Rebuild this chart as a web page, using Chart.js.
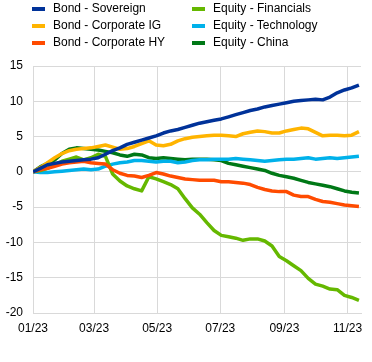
<!DOCTYPE html>
<html>
<head>
<meta charset="utf-8">
<script src="https://cdn.jsdelivr.net/npm/chart.js@4.4.0/dist/chart.umd.min.js"></script>
<style>
  html, body { margin: 0; padding: 0; background: #fff; }
  #wrap { position: relative; width: 372px; height: 362px; }
  #legend { position: absolute; left: 0; top: 0; width: 372px; height: 56px; font: 12px "Liberation Sans", Arial, sans-serif; color: #000; }
  .item { position: absolute; height: 17px; line-height: 17px; white-space: nowrap; }
  .sw { position: absolute; left: 0; top: 7px; width: 13px; height: 4px; }
  .lbl { position: absolute; left: 21px; top: 0; }
</style>
</head>
<body>
<div id="wrap">
  <canvas id="myChart" width="372" height="362"></canvas>
  <div id="legend"></div>
</div>
<script>
// days since 1 Jan 2023
const days = [0, 7, 14, 21, 28, 35, 42, 49, 56, 63, 70, 77, 84, 91, 98, 105, 112, 119, 126, 133,
  140, 147, 154, 161, 168, 175, 182, 189, 196, 203, 210, 217, 224, 231, 238, 245, 252, 259, 266, 273,
  280, 287, 294, 301, 308, 315];

const tickDays = [0, 59, 120, 181, 243, 304];
const tickLabels = ['01/23', '03/23', '05/23', '07/23', '09/23', '11/23'];

const bondSovereign = [0, 0.5, 1.0, 1.2, 1.4, 1.5, 1.6, 1.7, 1.8, 2.0, 2.5, 3.0, 3.4, 3.9, 4.2, 4.5, 4.8, 5.1, 5.5, 5.8,
  6.0, 6.3, 6.6, 6.9, 7.1, 7.3, 7.5, 7.8, 8.1, 8.4, 8.7, 8.9, 9.2, 9.4, 9.6, 9.8, 10.0, 10.1, 10.2, 10.3,
  10.2, 10.6, 11.2, 11.6, 11.9, 12.3];
const bondCorpIG = [0, 0.6, 1.3, 2.0, 2.6, 3.0, 3.2, 3.3, 3.4, 3.6, 3.8, 3.5, 3.2, 3.3, 3.6, 4.0, 4.4, 3.8, 3.7, 3.9,
  4.4, 4.7, 4.9, 5.0, 5.1, 5.2, 5.2, 5.1, 5.0, 5.4, 5.6, 5.8, 5.7, 5.5, 5.5, 5.8, 6.0, 6.2, 6.1, 5.6,
  5.1, 5.2, 5.2, 5.1, 5.2, 5.7];
const bondCorpHY = [0, 0.3, 0.5, 0.8, 1.1, 1.3, 1.4, 1.5, 1.3, 1.2, 1.1, 0.3, -0.2, -0.5, -0.6, -0.8, -0.5, -0.1, -0.3, -0.6,
  -0.8, -1.0, -1.1, -1.2, -1.2, -1.2, -1.4, -1.4, -1.5, -1.6, -1.8, -2.2, -2.5, -2.7, -2.8, -2.8, -3.3, -3.5, -3.5, -3.9,
  -4.2, -4.3, -4.5, -4.7, -4.8, -4.9];
const eqFinancials = [0, 0.2, 0.5, 1.0, 1.5, 1.8, 2.1, 1.7, 2.0, 2.5, 2.2, -0.3, -1.3, -2.0, -2.4, -2.7, -0.7, -1.0, -1.4, -1.8,
  -2.4, -3.8, -5.1, -6.0, -7.2, -8.3, -9.0, -9.2, -9.4, -9.7, -9.5, -9.5, -9.8, -10.5, -12.0, -12.6, -13.3, -14.0, -15.1, -15.9,
  -16.2, -16.6, -16.7, -17.5, -17.8, -18.2];
const eqTechnology = [0, -0.1, -0.1, 0, 0.1, 0.2, 0.3, 0.4, 0.3, 0.4, 0.8, 1.1, 1.3, 1.4, 1.6, 1.6, 1.5, 1.4, 1.5, 1.5,
  1.3, 1.4, 1.6, 1.7, 1.7, 1.8, 1.8, 1.8, 1.9, 1.8, 1.7, 1.6, 1.5, 1.6, 1.7, 1.8, 1.8, 1.9, 2.0, 1.8,
  1.9, 2.0, 1.9, 2.0, 2.1, 2.2];
const eqChina = [0, 0.7, 1.2, 1.7, 2.6, 3.2, 3.4, 3.3, 3.2, 3.1, 2.9, 2.7, 2.4, 2.2, 2.5, 2.4, 2.0, 1.9, 2.0, 1.9,
  1.8, 1.7, 1.8, 1.8, 1.8, 1.7, 1.6, 1.2, 1.0, 0.8, 0.6, 0.4, 0.2, -0.2, -0.5, -0.7, -0.9, -1.2, -1.5, -1.7,
  -1.9, -2.1, -2.4, -2.7, -2.9, -3.0];

const seriesNames = ['Bond - Sovereign', 'Bond - Corporate IG', 'Bond - Corporate HY',
  'Equity - Financials', 'Equity - Technology', 'Equity - China'];
const seriesData = [bondSovereign, bondCorpIG, bondCorpHY, eqFinancials, eqTechnology, eqChina];
const colors = ['#003299', '#ffb400', '#ff4b00', '#65b800', '#00b1ea', '#007816'];

const toPoints = (vals) => vals.map((v, i) => ({ x: days[i], y: v }));

// legend: two columns, three rows
const legend = document.getElementById('legend');
seriesNames.forEach((name, i) => {
  const col = Math.floor(i / 3), row = i % 3;
  const el = document.createElement('div');
  el.className = 'item';
  el.style.left = (col === 0 ? 32 : 192) + 'px';
  el.style.top = (0 + row * 17) + 'px';
  el.innerHTML = '<span class="sw" style="background:' + colors[i] + '"></span><span class="lbl">' + name + '</span>';
  legend.appendChild(el);
});

const gridColor = '#d9d9d9';
const ctx = document.getElementById('myChart').getContext('2d');
new Chart(ctx, {
  type: 'line',
  data: {
    datasets: seriesNames.map((name, i) => ({
      label: name,
      data: toPoints(seriesData[i]),
      borderColor: colors[i],
      backgroundColor: colors[i],
      borderWidth: 3.5,
      borderJoinStyle: 'round',
      pointRadius: 0,
      tension: 0,
      fill: false,
    })),
  },
  options: {
    responsive: false,
    animation: false,
    layout: { padding: { top: 66, right: 11, left: 0, bottom: 0 } },
    plugins: { legend: { display: false }, tooltip: { enabled: false } },
    scales: {
      x: {
        type: 'linear',
        min: 0,
        max: 317,
        afterBuildTicks: (scale) => { scale.ticks = tickDays.map(v => ({ value: v })); },
        afterFit: (scale) => { scale.height = 49; },
        ticks: {
          autoSkip: false,
          maxRotation: 0,
          padding: 8,
          color: '#000',
          font: { family: '"Liberation Sans", Arial, sans-serif', size: 12 },
          callback: (value, index) => tickLabels[index],
        },
        grid: { color: gridColor, lineWidth: 1, drawTicks: false },
        border: { color: gridColor },
      },
      y: {
        min: -20,
        max: 15,
        afterFit: (scale) => { scale.width = 33; },
        ticks: {
          stepSize: 5,
          padding: 10,
          color: '#000',
          font: { family: '"Liberation Sans", Arial, sans-serif', size: 12 },
        },
        grid: { color: gridColor, lineWidth: 1, drawTicks: false },
        border: { color: gridColor },
      },
    },
  },
});
</script>
</body>
</html>
